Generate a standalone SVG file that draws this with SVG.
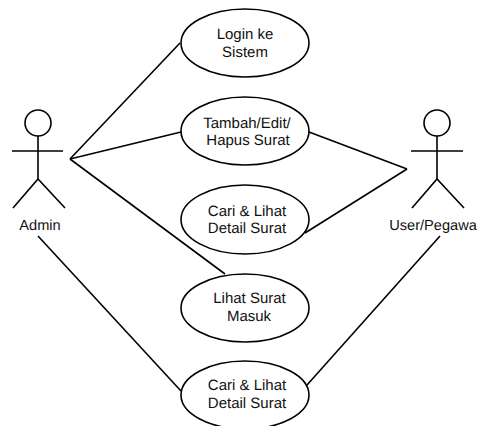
<svg xmlns="http://www.w3.org/2000/svg" width="477" height="426" viewBox="0 0 477 426">
<style>
.l{stroke:#000;stroke-width:1.6;fill:none}
.e{stroke:#000;stroke-width:1.6;fill:#fff}
text{font-family:"Liberation Sans",Arial,sans-serif;font-size:15px;fill:#111;text-anchor:middle;text-rendering:geometricPrecision}
.a{font-size:14.6px}
</style>
<rect width="477" height="426" fill="#fff"/>
<g id="connectors" class="l">
<path d="M70 159L180 43"/>
<path d="M70 159L181 132"/>
<path d="M70 159L225 274"/>
<path d="M38 236L181 391"/>
<path d="M309 132L407 169"/>
<path d="M305 233L407 169"/>
<path d="M440 236L307 385"/>
</g>
<g id="admin" class="l">
<circle cx="38" cy="123" r="13"/>
<path d="M12 151H63M38 136V179M13 208L38 179L65 208"/>
<text class="a" x="40" y="230" stroke="none">Admin</text>
</g>
<g id="user" class="l">
<circle cx="437" cy="123" r="13"/>
<path d="M411 151H463M437 136V179M412 208L437 179L464 208"/>
<text class="a" x="433" y="230" stroke="none">User/Pegawa</text>
</g>
<g id="login"><ellipse class="e" cx="245" cy="43" rx="64" ry="34"/><text x="245" y="39">Login ke</text><text x="245" y="57">Sistem</text></g>
<g id="tambah"><ellipse class="e" cx="245" cy="131" rx="64" ry="34"/><text x="247" y="127.5">Tambah/Edit/</text><text x="248" y="145">Hapus Surat</text></g>
<g id="cari1"><ellipse class="e" cx="245" cy="219.5" rx="64" ry="34.5"/><text x="247" y="215.5">Cari &amp; Lihat</text><text x="247" y="233">Detail Surat</text></g>
<g id="lihat"><ellipse class="e" cx="245" cy="308" rx="64" ry="34"/><text x="249.5" y="303">Lihat Surat</text><text x="249" y="320.5">Masuk</text></g>
<g id="cari2"><ellipse class="e" cx="245" cy="395" rx="64" ry="34"/><text x="247" y="390">Cari &amp; Lihat</text><text x="247" y="407.5">Detail Surat</text></g>
</svg>
